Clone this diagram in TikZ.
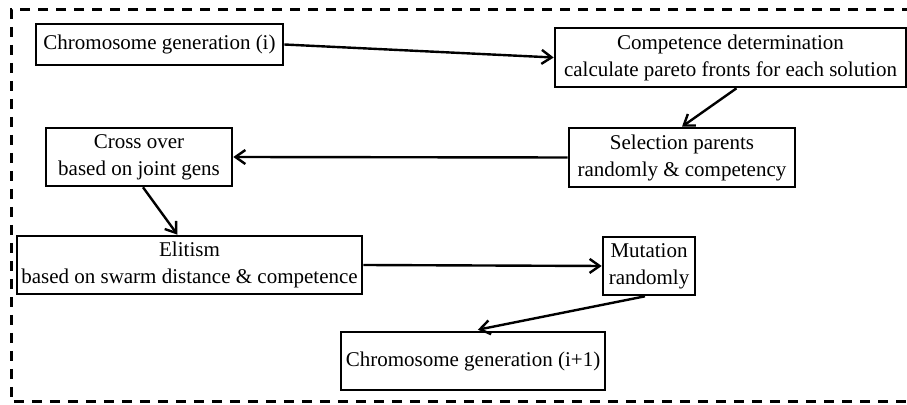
\documentclass[tikz,border=0pt]{standalone}
\usepackage{fontspec}
\setmainfont{Liberation Serif}
\usetikzlibrary{arrows.meta}

\begin{document}
\begin{tikzpicture}[x=0.5pt, y=-0.5pt,
        box/.style={draw, line width=1.3pt, align=center, inner sep=0pt,
            font=\fontsize{10.5pt}{13.5pt}\selectfont},
        flow/.style={-{Straight Barb[length=5pt,width=7pt]}, line width=1.2pt}]

        % frame
        \useasboundingbox (0,0) rectangle (907,405);
        \clip (0,0) rectangle (907,405);
        \draw[line width=1.5pt, dash pattern=on 5pt off 4pt] (930,10) -- (11,10) -- (11,402) -- (930,402);

        % steps
        \node[box, minimum width=123.5pt, minimum height=20.5pt] (gen) at (159.5,44.5) {Chromosome generation (i)};
        \node[box, minimum width=175.5pt, minimum height=29.5pt] (comp) at (730.5,57.5) {Competence determination\\calculate pareto fronts for each solution};
        \node[box, minimum width=113pt, minimum height=29.5pt] (sel) at (682,157.5) {Selection parents\\randomly \& competency};
        \node[box, minimum width=93pt, minimum height=29pt] (cross) at (139,157) {Cross over\\based on joint gens};
        \node[box, minimum width=172.5pt, minimum height=29pt] (elit) at (189.5,265) {Elitism\\based on swarm distance \& competence};
        \node[box, minimum width=46pt, minimum height=29pt] (mut) at (649,266) {Mutation\\randomly};
        \node[box, minimum width=132pt, minimum height=29pt] (next) at (473,361) {Chromosome generation (i+1)};

        % flow
        \draw[flow] (gen.east) -- (comp.west);
        \draw[flow] ([xshift=3pt]comp.south) -- (sel.north);
        \draw[flow] (sel.west) -- (cross.east);
        \draw[flow] ([xshift=2pt]cross.south) -- ([xshift=-6pt]elit.north);
        \draw[flow] (elit.east) -- (mut.west);
        \draw[flow, shorten >=2.5pt] ([xshift=-2pt]mut.south) -- (next.north);

    \end{tikzpicture}
\end{document}
